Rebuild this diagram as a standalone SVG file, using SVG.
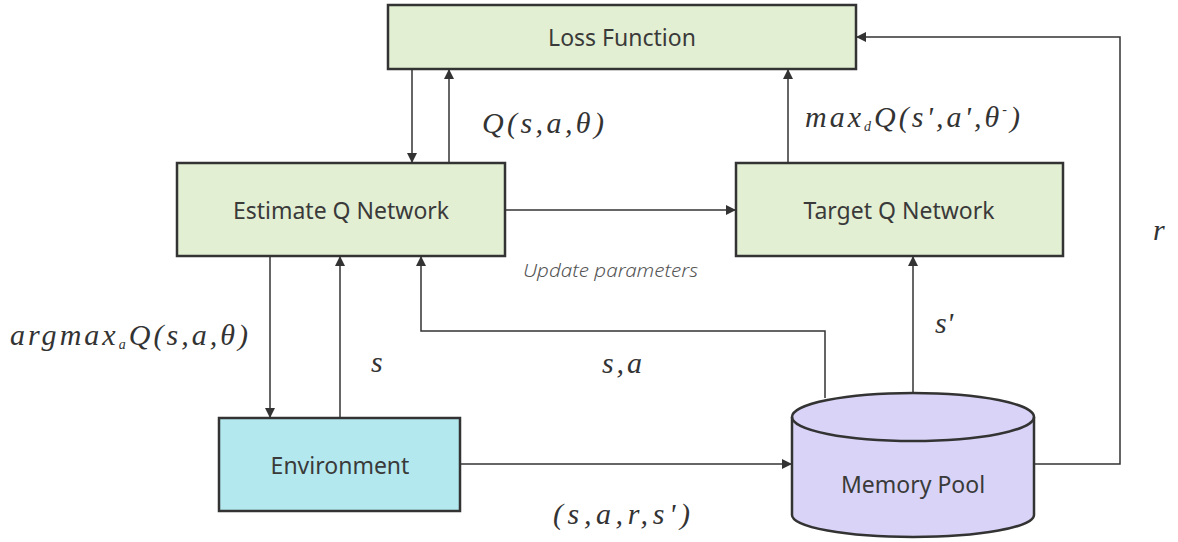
<svg xmlns="http://www.w3.org/2000/svg" width="1178" height="542" viewBox="0 0 1178 542">
<defs>
<marker id="arr" viewBox="0 0 10 10" refX="10" refY="5" markerWidth="10" markerHeight="10" markerUnits="userSpaceOnUse" orient="auto">
<path d="M0,0 L10,5 L0,10 z" fill="#333"/>
</marker>
</defs>
<rect width="1178" height="542" fill="#fff"/>
<g font-family="Noto Sans, Liberation Sans, sans-serif" font-size="23" fill="#3a3a3a" text-anchor="middle">
<g id="loss">
<rect fill="#e3efd3" stroke="#333" stroke-width="2.5" x="388" y="5" width="468" height="64"/>
<text x="622" y="46">Loss Function</text>
</g>
<g id="estimate">
<rect fill="#e3efd3" stroke="#333" stroke-width="2.5" x="177" y="163" width="328" height="93"/>
<text x="341" y="219">Estimate Q Network</text>
</g>
<g id="target">
<rect fill="#e3efd3" stroke="#333" stroke-width="2.5" x="736" y="163" width="327" height="93"/>
<text x="899" y="219">Target Q Network</text>
</g>
<g id="environment">
<rect fill="#b3e9ee" stroke="#333" stroke-width="2.5" x="219" y="418" width="241" height="93"/>
<text x="340" y="474">Environment</text>
</g>
<g id="memory">
<path fill="#d9d4f7" stroke="#333" stroke-width="2.5" d="M792,417 L792,515 A121,22 0 0 0 1034,515 L1034,417 A121,24 0 0 0 792,417 Z"/>
<path fill="none" stroke="#333" stroke-width="2.5" d="M792,417 A121,24 0 0 0 1034,417"/>
<text x="913" y="493">Memory Pool</text>
</g>
</g>
<g id="connectors" fill="none" stroke="#333" stroke-width="1.5">
<line x1="412" y1="69" x2="412" y2="163" marker-end="url(#arr)"/>
<line x1="449" y1="163" x2="449" y2="69" marker-end="url(#arr)"/>
<line x1="788" y1="163" x2="788" y2="69" marker-end="url(#arr)"/>
<line x1="505" y1="210" x2="736" y2="210" marker-end="url(#arr)"/>
<line x1="270" y1="256" x2="270" y2="418" marker-end="url(#arr)"/>
<line x1="340" y1="418" x2="340" y2="256" marker-end="url(#arr)"/>
<polyline points="825,398 825,331 421,331 421,256" marker-end="url(#arr)"/>
<line x1="913" y1="393" x2="913" y2="256" marker-end="url(#arr)"/>
<line x1="460" y1="464" x2="792" y2="464" marker-end="url(#arr)"/>
<polyline points="1034,464 1120,464 1120,37 856,37" marker-end="url(#arr)"/>
</g>
<g id="labels" fill="#333" font-family="Liberation Serif, Times New Roman, serif" font-style="italic" font-size="30">
<text x="482" y="133" textLength="122" lengthAdjust="spacing">Q(s,a,θ)</text>
<text x="805" y="127" textLength="215" lengthAdjust="spacing">max<tspan font-size="14" dy="4">d</tspan><tspan dy="-4">Q(s',a',θ</tspan><tspan font-size="14" dy="-13">-</tspan><tspan dy="13">)</tspan></text>
<text x="10" y="345" textLength="238" lengthAdjust="spacing">argmax<tspan font-size="14" dy="4">a</tspan><tspan dy="-4">Q(s,a,θ)</tspan></text>
<text x="371" y="372">s</text>
<text x="602" y="373" textLength="40" lengthAdjust="spacing">s,a</text>
<text x="935" y="333">s'</text>
<text x="1153" y="240">r</text>
<text x="553" y="524" textLength="137" lengthAdjust="spacing">(s,a,r,s')</text>
</g>
<text font-family="Noto Sans, Liberation Sans, sans-serif" font-style="italic" font-weight="300" font-size="18" fill="#555" x="523" y="277" textLength="175" lengthAdjust="spacingAndGlyphs">Update parameters</text>
</svg>
